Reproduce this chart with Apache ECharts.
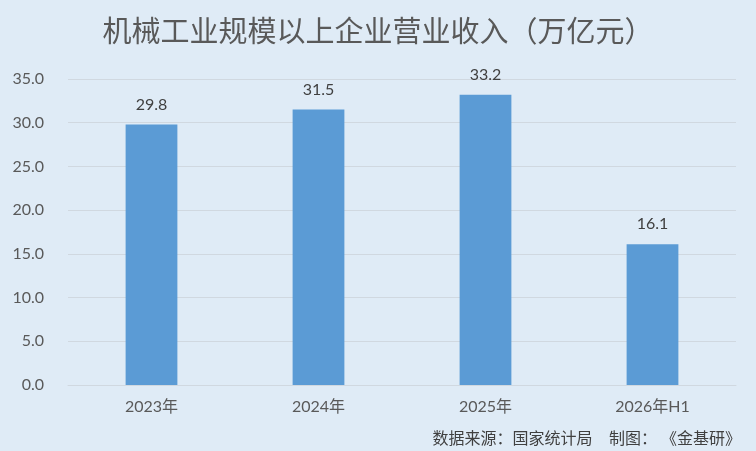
<!DOCTYPE html>
<html>
<head>
    <meta charset="utf-8">
    <title>机械工业规模以上企业营业收入</title>
    <script src="https://cdn.jsdelivr.net/npm/echarts@6/dist/echarts.min.js"></script>
    <style>
        html, body { margin: 0; padding: 0; background: #dfebf6; }
        #main { width: 756px; height: 451px; }
    </style>
</head>
<body>
    <div id="main"></div>
<script type="text/javascript">
    // 数据
    var categories = ['2023年', '2024年', '2025年', '2026年H1'];
    var revenue = [29.8, 31.5, 33.2, 16.1];
    var titleText = '机械工业规模以上企业营业收入（万亿元）';
    var sourceText = '数据来源：国家统计局    制图： 《金基研》';

    var fontFamily = 'Lato, "Noto Sans CJK SC", sans-serif';

    var myChart = echarts.init(document.getElementById('main'));

    var option = {
        backgroundColor: '#dfebf6',
        animation: false,
        title: [{
            text: titleText,
            left: 'center',
            top: 11,
            textStyle: {
                color: '#595959',
                fontSize: 29,
                fontWeight: 'normal',
                fontFamily: '"Noto Sans CJK SC", sans-serif'
            }
        }, {
            text: sourceText,
            right: 10,
            top: 426,
            textStyle: {
                color: '#404040',
                fontSize: 16,
                fontWeight: 'normal',
                fontFamily: fontFamily
            }
        }],
        grid: {
            left: 68,
            right: 20,
            top: 79,
            bottom: 66
        },
        xAxis: {
            type: 'category',
            data: categories,
            axisLine: { show: true, lineStyle: { color: '#d0d8e0', width: 1 } },
            axisTick: { show: false },
            axisLabel: {
                color: '#595959',
                fontSize: 16,
                margin: 14,
                fontFamily: fontFamily
            }
        },
        yAxis: {
            type: 'value',
            min: 0,
            max: 35,
            interval: 5,
            axisLine: { show: false },
            axisTick: { show: false },
            splitLine: { lineStyle: { color: '#d0d8e0', width: 1 } },
            axisLabel: {
                color: '#595959',
                fontSize: 16,
                margin: 24,
                fontFamily: fontFamily,
                formatter: function(v) { return v.toFixed(1); }
            }
        },
        series: [{
            name: '营业收入',
            type: 'bar',
            data: revenue,
            barWidth: '31%',
            itemStyle: { color: '#5b9bd5' },
            label: {
                show: true,
                position: 'top',
                distance: 12,
                color: '#404040',
                fontSize: 16,
                fontFamily: fontFamily,
                formatter: function(p) { return p.value.toFixed(1); }
            }
        }]
    };

    myChart.setOption(option);
</script>
</body>
</html>
